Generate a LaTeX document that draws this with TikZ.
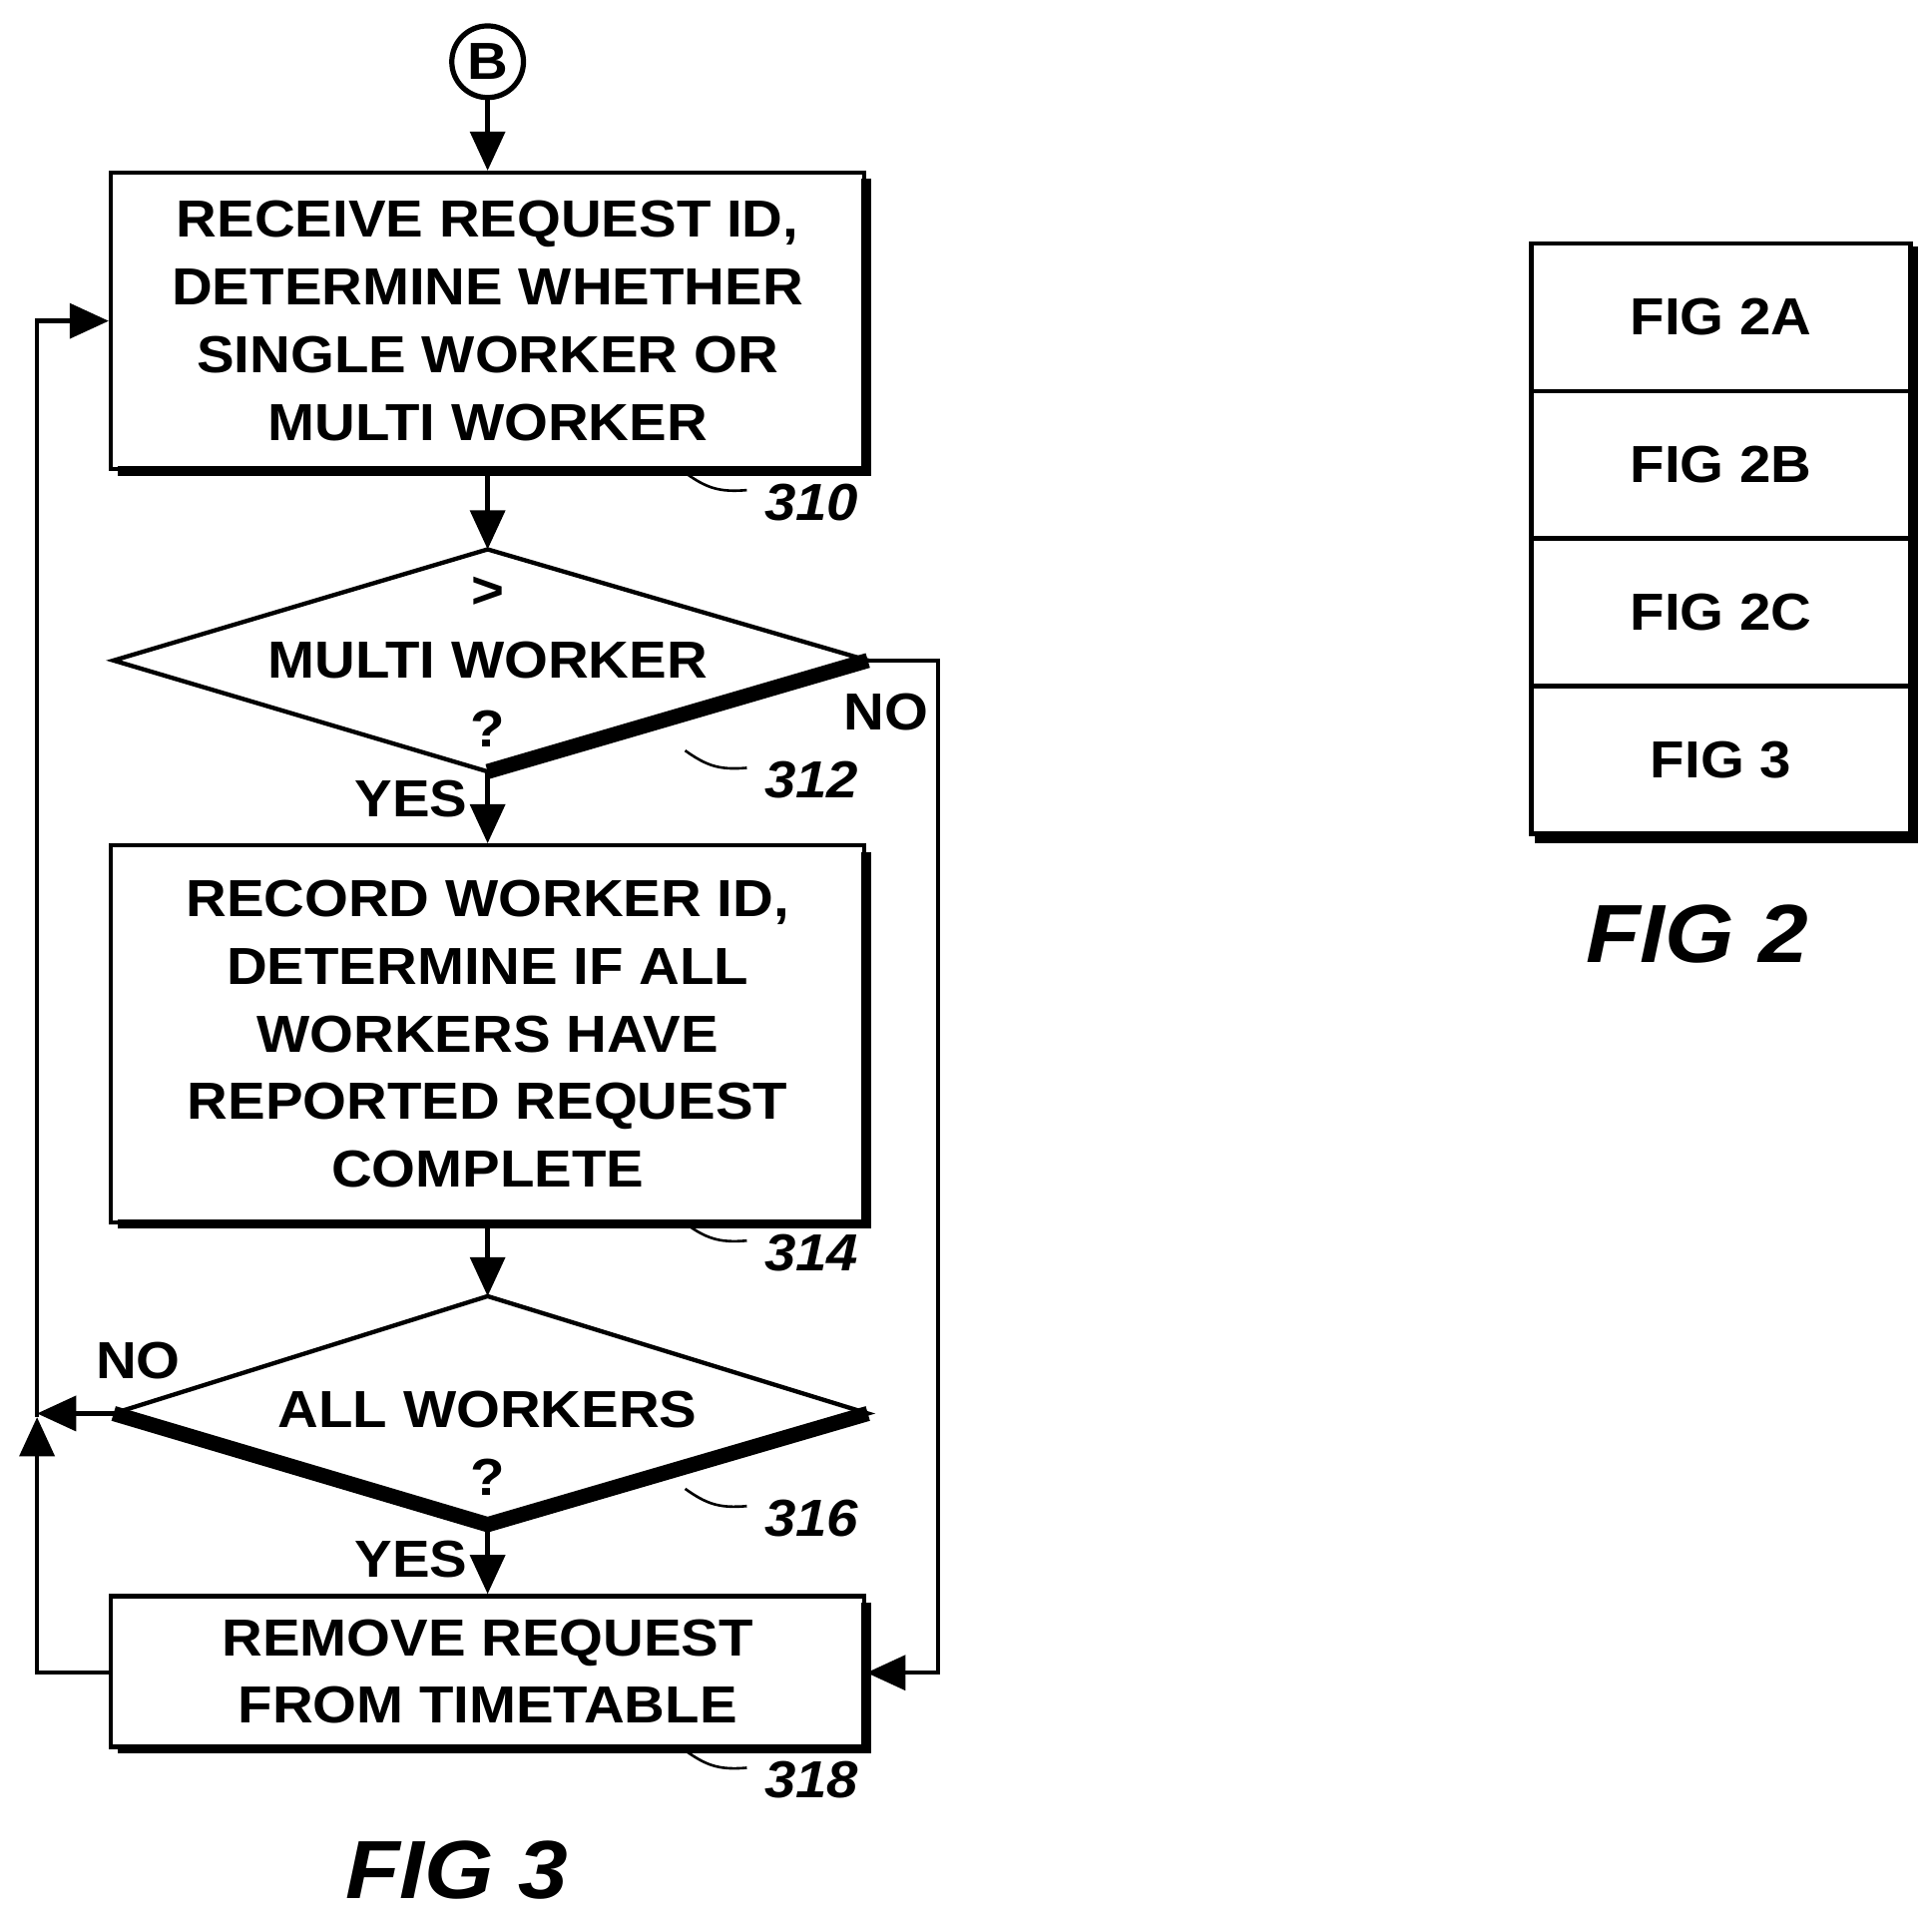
\documentclass[tikz,border=0pt]{standalone}
\usepackage{fontspec}
\setmainfont[FakeStretch=1.08]{Liberation Sans}
\usetikzlibrary{arrows.meta}
\begin{document}
\begin{tikzpicture}[x=0.01cm,y=-0.01cm,
  every node/.style={font=\bfseries\fontsize{12}{15.6}\selectfont},
  box/.style={draw,line width=1pt,align=center,inner sep=0},
  ln/.style={line width=1pt},
  arr/.style={ln,-{Triangle[length=9pt,width=8pt]}},
  lab/.style={font=\bfseries\itshape\fontsize{12}{14}\selectfont},
  fig/.style={font=\bfseries\itshape\fontsize{19}{22}\selectfont}]
\useasboundingbox (0,0) rectangle (1565,1551);
% shadows
\foreach \a/\b in {140/380,685/990,1293/1415}{
  \draw[line width=2.2pt] (95,\b+1.5) -- (701.5,\b+1.5) -- (701.5,\a+5);}
\node[draw,circle,line width=1.2pt,minimum size=0.58cm,inner sep=0] (B) at (395,50) {B};
\node[box,minimum width=6.1cm,minimum height=2.4cm] (b310) at (395,260) {RECEIVE REQUEST ID,\\DETERMINE WHETHER\\SINGLE WORKER OR\\MULTI WORKER};
\coordinate (d1t) at (395,445); \coordinate (d1b) at (395,625);
\coordinate (d1l) at (92,535); \coordinate (d1r) at (703,535);
\draw[ln] (d1t) -- (d1r) -- (d1b) -- (d1l) -- cycle;
\draw[line width=3.5pt] (d1r) -- (d1b);
\node at (395,480) {>};
\node at (395,535) {MULTI WORKER};
\node at (395,590) {?};
\node[box,minimum width=6.1cm,minimum height=3.05cm] (b314) at (395,837.5) {RECORD WORKER ID,\\DETERMINE IF ALL\\WORKERS HAVE\\REPORTED REQUEST\\COMPLETE};
\coordinate (d2t) at (395,1050); \coordinate (d2b) at (395,1235);
\coordinate (d2l) at (92,1145); \coordinate (d2r) at (703,1145);
\draw[ln] (d2t) -- (d2r) -- (d2b) -- (d2l) -- cycle;
\draw[line width=3.5pt] (d2r) -- (d2b) (d2l) -- (d2b);
\node at (395,1142) {ALL WORKERS};
\node at (395,1197) {?};
\node[box,minimum width=6.1cm,minimum height=1.22cm] (b318) at (395,1354) {REMOVE REQUEST\\FROM TIMETABLE};
% connectors
\draw[arr] (B) -- (b310);
\draw[arr] (b310) -- (d1t);
\draw[arr] (d1b) -- (b314);
\draw[arr] (b314) -- (d2t);
\draw[arr] (d2b) -- (b318);
\coordinate (c1) at (760,535); \coordinate (c2) at (760,1355);
\draw[arr] (d1r) -- (c1) -- (c2) -- (b318.east |- c2);
\coordinate (j) at (30,1145);
\draw[arr] (d2l) -- (j);
\coordinate (e1) at (30,1355); \coordinate (e2) at (30,260);
\draw[arr] (b318.west |- e1) -- (e1) -- (30,1148);
\draw[arr] (30,1148) -- (e2) -- (b310.west |- e2);
\node at (718,577) {NO};
\node at (333,647) {YES};
\node at (112,1102) {NO};
\node at (333,1263) {YES};
% reference labels
\foreach \y/\t in {395/310,620/312,1003/314,1218/316,1430/318}{
  \draw[line width=0.6pt] (555,\y-12) .. controls (572,\y) and (582,\y+4) .. (605,\y+2);
  \node[lab,anchor=west] at (607,\y+12) {\t};}
\node[fig] at (370,1515) {FIG 3};
% FIG 2 table
\draw[line width=2.2pt] (1243,679) -- (1550,679) -- (1550,200);
\foreach \i/\t in {0/FIG 2A,1/FIG 2B,2/FIG 2C,3/FIG 3}{
  \node[box,minimum width=3.07cm,minimum height=1.195cm] (f\i) at (1394,257+\i*119.5) {\t};}
\node[fig] at (1375,757) {FIG 2};
\end{tikzpicture}
\end{document}
